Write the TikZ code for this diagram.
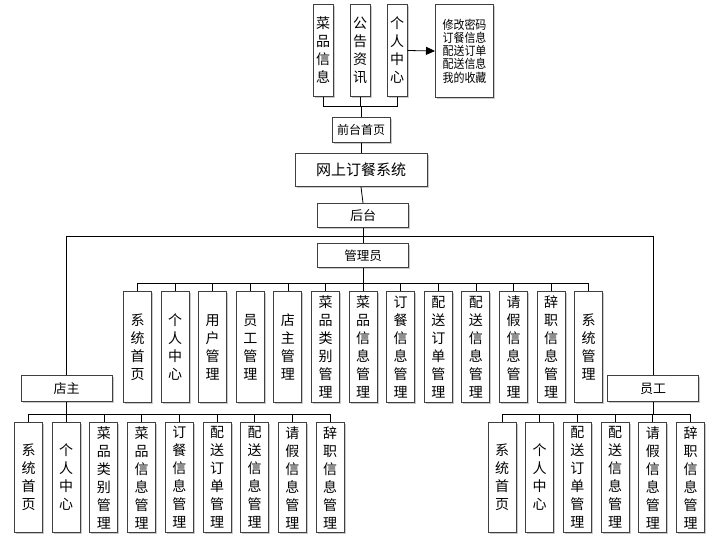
\documentclass[tikz,border=0pt]{standalone}
\usepackage{fontspec}
\setmainfont{Noto Sans CJK SC}
\newfontfamily\narrowcjk{Noto Sans CJK SC}[FakeStretch=0.9]
\usetikzlibrary{shadows,arrows.meta}
\tikzset{
  box/.style={draw=black!75,line width=1pt,fill=white,inner sep=0pt,
    drop shadow={shadow xshift=1.5pt,shadow yshift=-1.5pt,fill=black!35,opacity=.6}},
  vbox/.style={box,minimum width=28pt,minimum height=110pt,align=center,font=\fontsize{14}{18}\selectfont},
  topbox/.style={box,minimum width=20pt,minimum height=92pt,align=center,font=\fontsize{14}{18}\selectfont},
  hbox/.style={box,minimum width=91pt,minimum height=24pt,font=\fontsize{13}{15}\selectfont},
  link/.style={line width=0.8pt,black}
}
\begin{document}
\begin{tikzpicture}[x=1pt,y=-1pt]
\useasboundingbox (0,0) rectangle (723,547);
\node[topbox] (t1) at (323,50.5) {菜\\品\\信\\息};
\node[topbox] (t2) at (360,50.5) {公\\告\\资\\讯};
\node[topbox] (t3) at (397,50.5) {个\\人\\中\\心};
\node[box,minimum width=58pt,minimum height=93pt,align=center,font=\narrowcjk\fontsize{12.2}{13.3}\selectfont] (info) at (464.5,51) {修改密码\\订餐信息\\配送订单\\配送信息\\我的收藏};
\node[box,minimum width=58pt,minimum height=25pt,font=\fontsize{12}{14}\selectfont] (home) at (361,130) {前台首页};
\node[box,minimum width=132pt,minimum height=33pt,font=\fontsize{15}{17}\selectfont] (sys) at (361,170) {网上订餐系统};
\node[hbox] (back) at (363,215.5) {后台};
\node[hbox,font=\fontsize{12.5}{15}\selectfont] (admin) at (363,255.5) {管理员};
\node[hbox,minimum height=26pt] (shop) at (66.5,388.5) {店主};
\node[hbox,minimum height=26pt] (staff) at (653,388.5) {员工};
\node[vbox,minimum height=111pt] (a1) at (137.5,347) {系\\统\\首\\页};
\node[vbox,minimum height=111pt] (a2) at (175.1,347) {个\\人\\中\\心};
\node[vbox,minimum height=111pt] (a3) at (212.7,347) {用\\户\\管\\理};
\node[vbox,minimum height=111pt] (a4) at (250.3,347) {员\\工\\管\\理};
\node[vbox,minimum height=111pt] (a5) at (287.9,347) {店\\主\\管\\理};
\node[vbox,minimum height=111pt] (a6) at (325.5,347) {菜\\品\\类\\别\\管\\理};
\node[vbox,minimum height=111pt] (a7) at (363.1,347) {菜\\品\\信\\息\\管\\理};
\node[vbox,minimum height=111pt] (a8) at (400.7,347) {订\\餐\\信\\息\\管\\理};
\node[vbox,minimum height=111pt] (a9) at (438.3,347) {配\\送\\订\\单\\管\\理};
\node[vbox,minimum height=111pt] (a10) at (475.9,347) {配\\送\\信\\息\\管\\理};
\node[vbox,minimum height=111pt] (a11) at (513.5,347) {请\\假\\信\\息\\管\\理};
\node[vbox,minimum height=111pt] (a12) at (551.1,347) {辞\\职\\信\\息\\管\\理};
\node[vbox,minimum height=111pt] (a13) at (588.7,347) {系\\统\\管\\理};
\node[vbox] (s1) at (28.5,477.5) {系\\统\\首\\页};
\node[vbox] (s2) at (66.2,477.5) {个\\人\\中\\心};
\node[vbox] (s3) at (103.9,477.5) {菜\\品\\类\\别\\管\\理};
\node[vbox] (s4) at (141.6,477.5) {菜\\品\\信\\息\\管\\理};
\node[vbox] (s5) at (179.3,477.5) {订\\餐\\信\\息\\管\\理};
\node[vbox] (s6) at (217,477.5) {配\\送\\订\\单\\管\\理};
\node[vbox] (s7) at (254.7,477.5) {配\\送\\信\\息\\管\\理};
\node[vbox] (s8) at (292.4,477.5) {请\\假\\信\\息\\管\\理};
\node[vbox] (s9) at (330.1,477.5) {辞\\职\\信\\息\\管\\理};
\node[vbox] (e1) at (502,477.5) {系\\统\\首\\页};
\node[vbox] (e2) at (539.7,477.5) {个\\人\\中\\心};
\node[vbox] (e3) at (577.4,477.5) {配\\送\\订\\单\\管\\理};
\node[vbox] (e4) at (615.1,477.5) {配\\送\\信\\息\\管\\理};
\node[vbox] (e5) at (652.8,477.5) {请\\假\\信\\息\\管\\理};
\node[vbox] (e6) at (690.5,477.5) {辞\\职\\信\\息\\管\\理};
\draw[link,-{Triangle[length=9pt,width=8pt]}] (t3.east) -- (info.west);
\draw[link] (home.north) -- ++(0,-11) -| (t1.south);
\draw[link] (home.north) -- ++(0,-11) -| (t2.south);
\draw[link] (home.north) -- ++(0,-11) -| (t3.south);
\draw[link] (home.south) -- (sys.north);
\draw[link] (sys.south) -- (back.north);
\draw[link] (back.south) -- (admin.north);
\draw[link] (back.south) -- ++(0,8) -| (shop.north);
\draw[link] (back.south) -- ++(0,8) -| (staff.north);
\draw[link] (admin.south) -- ++(0,15) -| (a1.north);
\draw[link] (admin.south) -- ++(0,15) -| (a2.north);
\draw[link] (admin.south) -- ++(0,15) -| (a3.north);
\draw[link] (admin.south) -- ++(0,15) -| (a4.north);
\draw[link] (admin.south) -- ++(0,15) -| (a5.north);
\draw[link] (admin.south) -- ++(0,15) -| (a6.north);
\draw[link] (admin.south) -- ++(0,15) -| (a7.north);
\draw[link] (admin.south) -- ++(0,15) -| (a8.north);
\draw[link] (admin.south) -- ++(0,15) -| (a9.north);
\draw[link] (admin.south) -- ++(0,15) -| (a10.north);
\draw[link] (admin.south) -- ++(0,15) -| (a11.north);
\draw[link] (admin.south) -- ++(0,15) -| (a12.north);
\draw[link] (admin.south) -- ++(0,15) -| (a13.north);
\draw[link] (shop.south) -- ++(0,12) -| (s1.north);
\draw[link] (shop.south) -- ++(0,12) -| (s2.north);
\draw[link] (shop.south) -- ++(0,12) -| (s3.north);
\draw[link] (shop.south) -- ++(0,12) -| (s4.north);
\draw[link] (shop.south) -- ++(0,12) -| (s5.north);
\draw[link] (shop.south) -- ++(0,12) -| (s6.north);
\draw[link] (shop.south) -- ++(0,12) -| (s7.north);
\draw[link] (shop.south) -- ++(0,12) -| (s8.north);
\draw[link] (shop.south) -- ++(0,12) -| (s9.north);
\draw[link] (staff.south) -- ++(0,12) -| (e1.north);
\draw[link] (staff.south) -- ++(0,12) -| (e2.north);
\draw[link] (staff.south) -- ++(0,12) -| (e3.north);
\draw[link] (staff.south) -- ++(0,12) -| (e4.north);
\draw[link] (staff.south) -- ++(0,12) -| (e5.north);
\draw[link] (staff.south) -- ++(0,12) -| (e6.north);
\end{tikzpicture}
\end{document}
